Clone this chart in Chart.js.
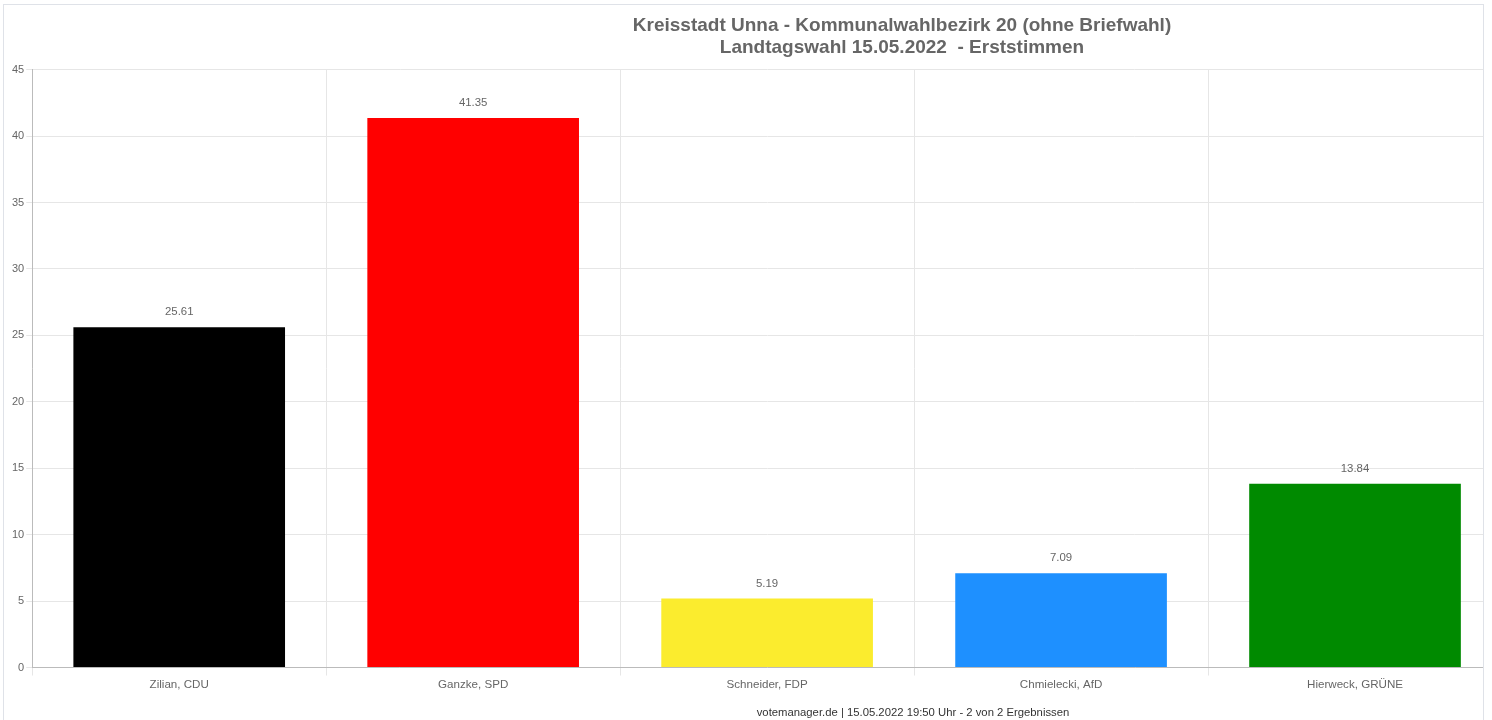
<!DOCTYPE html>
<html>
<head>
<meta charset="utf-8">
<script src="https://cdn.jsdelivr.net/npm/chart.js@4/dist/chart.umd.min.js"></script>
<style>
  html, body { margin: 0; padding: 0; background: #fff; }
  .frame {
    position: absolute;
    left: 3px;
    top: 4px;
    width: 1479px;
    height: 740px;
    border: 1px solid #dfe2e8;
    overflow: hidden;
  }
  .frame canvas { position: absolute; left: 0; top: 0; }
</style>
</head>
<body>
<div class="frame">
  <canvas id="chart" width="1796" height="719"></canvas>
</div>
<script>
const titleLines = [
  'Kreisstadt Unna - Kommunalwahlbezirk 20 (ohne Briefwahl)',
  'Landtagswahl 15.05.2022  - Erststimmen',
];
const footerText = 'votemanager.de | 15.05.2022 19:50 Uhr - 2 von 2 Ergebnissen';

const candidates = ['Zilian, CDU', 'Ganzke, SPD', 'Schneider, FDP', 'Chmielecki, AfD', 'Hierweck, GRÜNE'];
const shares = [25.61, 41.35, 5.19, 7.09, 13.84];
const partyColors = ['#000000', '#ff0000', '#fbec2e', '#1e90ff', '#008a00'];

const yMin = 0;
const yMax = 45;
const yStep = 5;

const fontFamily = 'Arial, "Liberation Sans", sans-serif';

// values above the bars
const valueLabels = {
  id: 'valueLabels',
  afterDatasetsDraw(chart) {
    const { ctx } = chart;
    const meta = chart.getDatasetMeta(0);

    ctx.save();
    ctx.font = `11.4px ${fontFamily}`;
    ctx.fillStyle = '#666';
    ctx.textAlign = 'center';
    ctx.textBaseline = 'alphabetic';

    meta.data.forEach((bar, index) => {
      ctx.fillText(shares[index].toFixed(2), bar.x, bar.y - 12);
    });

    ctx.restore();
  }
};

// title and footer are centred on the whole canvas, not on the padded area
const centerHeadings = {
  id: 'centerHeadings',
  afterLayout(chart) {
    chart.boxes.forEach(box => {
      if (!box.options || box.options.text === undefined) {
        return;
      }
      const shift = box.options.position === 'bottom' ? 11 : 0;
      box.left = shift;
      box.right = chart.width + shift;
    });
  }
};

const context = document.getElementById('chart').getContext('2d');

new Chart(context, {
  type: 'bar',
  data: {
    labels: candidates,
    datasets: [
      {
        data: shares,
        backgroundColor: partyColors,
        borderWidth: 0,
      }
    ],
  },
  options: {
    responsive: false,
    animation: false,
    layout: {
      padding: { left: 6, right: 298, top: 0, bottom: 0 },
    },
    plugins: {
      legend: { display: false },
      tooltip: { enabled: false },
      title: {
        display: true,
        text: titleLines,
        color: '#666',
        font: { family: fontFamily, size: 19, weight: 'bold', lineHeight: 1.2 },
        padding: { top: 9, bottom: 10 },
      },
      subtitle: {
        display: true,
        position: 'bottom',
        text: footerText,
        color: '#333',
        font: { family: fontFamily, size: 11.3 },
        padding: { top: 13, bottom: 4 },
      },
    },
    scales: {
      x: {
        grid: { color: '#e6e6e6', tickLength: 8 },
        border: { color: '#bbb' },
        ticks: { color: '#666', font: { family: fontFamily, size: 11.6 }, padding: 2 },
      },
      y: {
        min: yMin,
        max: yMax,
        grid: { color: '#e6e6e6', tickLength: 6 },
        border: { color: '#bbb' },
        ticks: {
          stepSize: yStep,
          color: '#666',
          font: { family: fontFamily, size: 11 },
          padding: 2,
        },
      },
    },
  },
  plugins: [valueLabels, centerHeadings],
});
</script>
</body>
</html>
